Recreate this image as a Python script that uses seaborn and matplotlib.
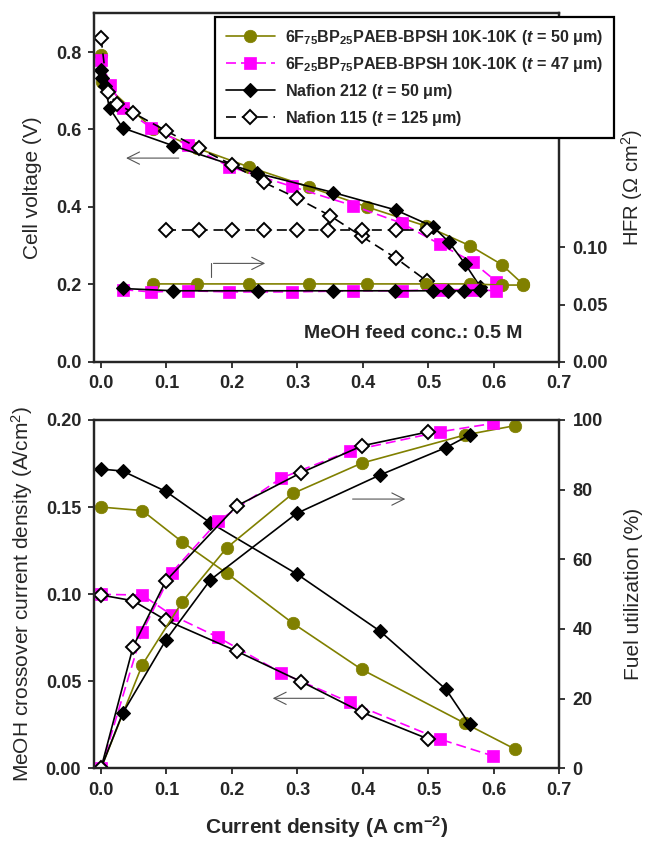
import numpy as np
import pandas as pd
import matplotlib
matplotlib.use("Agg")
import matplotlib.pyplot as plt
from matplotlib.lines import Line2D
import seaborn as sns

sns.set_style("ticks")
plt.rcParams['font.family'] = ['Liberation Sans', 'DejaVu Sans']
plt.rcParams['mathtext.fontset'] = 'custom'
plt.rcParams['mathtext.rm'] = 'Liberation Sans'
plt.rcParams['mathtext.bf'] = 'Liberation Sans:bold'
plt.rcParams['mathtext.it'] = 'Liberation Sans:italic'
plt.rcParams['mathtext.bfit'] = 'Liberation Sans:italic:bold'
plt.rcParams['mathtext.default'] = 'rm'

# ---------------- data: top panel (polarization + HFR) ----------------
labels = [r"6F$\mathbf{_{75}}$BP$\mathbf{_{25}}$PAEB-BPSH 10K-10K ($\mathbfit{t}$ = 50 μm)",
          r"6F$\mathbf{_{25}}$BP$\mathbf{_{75}}$PAEB-BPSH 10K-10K ($\mathbfit{t}$ = 47 μm)",
          r"Nafion 212 ($\mathbfit{t}$ = 50 μm)",
          r"Nafion 115 ($\mathbfit{t}$ = 125 μm)"]

pol_I_6F75 = [0.0, 0.002, 0.08, 0.146, 0.226, 0.317, 0.406, 0.497, 0.563, 0.612, 0.644]
pol_V_6F75 = [0.793, 0.722, 0.600, 0.552, 0.503, 0.452, 0.400, 0.350, 0.300, 0.251, 0.201]
hfr_I_6F75 = [0.08, 0.146, 0.226, 0.317, 0.406, 0.497, 0.563, 0.612, 0.644]
hfr_R_6F75 = [0.068, 0.068, 0.068, 0.068, 0.068, 0.068, 0.068, 0.067, 0.067]

pol_I_6F25 = [0.0, 0.014, 0.034, 0.077, 0.133, 0.196, 0.291, 0.385, 0.459, 0.517, 0.568, 0.604]
pol_V_6F25 = [0.780, 0.716, 0.655, 0.604, 0.559, 0.504, 0.453, 0.403, 0.358, 0.304, 0.257, 0.207]
hfr_I_6F25 = [0.034, 0.077, 0.133, 0.196, 0.291, 0.385, 0.459, 0.517, 0.568, 0.604]
hfr_R_6F25 = [0.063, 0.061, 0.062, 0.061, 0.061, 0.062, 0.062, 0.063, 0.063, 0.062]

pol_I_N212 = [0.0, 0.002, 0.006, 0.013, 0.033, 0.11, 0.238, 0.355, 0.45, 0.507, 0.531, 0.556, 0.579]
pol_V_N212 = [0.754, 0.733, 0.711, 0.655, 0.604, 0.558, 0.487, 0.437, 0.392, 0.349, 0.310, 0.253, 0.194]
hfr_I_N212 = [0.033, 0.11, 0.24, 0.354, 0.449, 0.507, 0.53, 0.555, 0.579]
hfr_R_N212 = [0.064, 0.062, 0.062, 0.062, 0.062, 0.062, 0.062, 0.062, 0.063]

pol_I_N115 = [0.0, 0.01, 0.024, 0.049, 0.1, 0.15, 0.2, 0.249, 0.30, 0.35, 0.398, 0.451, 0.498]
pol_V_N115 = [0.837, 0.696, 0.667, 0.643, 0.596, 0.551, 0.509, 0.463, 0.422, 0.377, 0.324, 0.267, 0.208]
hfr_I_N115 = [0.099, 0.15, 0.2, 0.249, 0.30, 0.347, 0.398, 0.451, 0.498]
hfr_R_N115 = [0.1147, 0.1147, 0.1147, 0.1147, 0.1147, 0.1147, 0.1147, 0.1147, 0.1147]

# ---------------- data: bottom panel (crossover + fuel utilization) ----------------
x_I_6F75 = [0.0, 0.063, 0.124, 0.192, 0.293, 0.398, 0.556, 0.633]
x_C_6F75 = [0.150, 0.148, 0.130, 0.112, 0.0833, 0.0568, 0.0258, 0.0109]
x_U_6F75 = [0, 29.7, 47.8, 63.3, 78.9, 87.6, 95.7, 98.4]

x_I_6F25 = [0.0, 0.063, 0.108, 0.179, 0.275, 0.38, 0.517, 0.598]
x_C_6F25 = [0.0999, 0.0995, 0.088, 0.0752, 0.0549, 0.0379, 0.0168, 0.0072]
x_U_6F25 = [0, 39.2, 56.2, 71.0, 83.3, 91.1, 96.6, 99.0]

x_I_N212 = [0.0, 0.033, 0.099, 0.167, 0.299, 0.426, 0.527, 0.563]
x_C_N212 = [0.1718, 0.1707, 0.159, 0.141, 0.1116, 0.0788, 0.0453, 0.0252]
x_U_N212 = [0, 15.8, 36.8, 54.1, 73.2, 84.2, 92.1, 95.7]

x_I_N115 = [0.0, 0.049, 0.099, 0.207, 0.306, 0.399, 0.5]
x_C_N115 = [0.0995, 0.0962, 0.0851, 0.0673, 0.0497, 0.0321, 0.0168]
x_U_N115 = [0, 34.9, 53.8, 75.3, 84.9, 92.6, 96.6]

# ---------------- styles ----------------
OLIVE = '#808000'
MAG = '#FF00FF'
LW = 1.2
styles = {
    '6F75': dict(color=OLIVE, marker='o', markersize=9, markerfacecolor=OLIVE,
                 markeredgecolor=OLIVE, markeredgewidth=0.5, linestyle='-', linewidth=LW),
    '6F25': dict(color=MAG, marker='s', markersize=8, markerfacecolor=MAG,
                 markeredgecolor=MAG, markeredgewidth=0.5, linestyle=(0, (6, 3)), linewidth=LW),
    'N212': dict(color='black', marker='D', markersize=7, markerfacecolor='black',
                 markeredgecolor='black', markeredgewidth=0.8, linestyle='-', linewidth=LW),
    'N115': dict(color='black', marker='D', markersize=7, markerfacecolor='white',
                 markeredgecolor='black', markeredgewidth=1.4, linestyle=(0, (6, 3.5)), linewidth=LW),
}

def draw(ax, x, y, key, **over):
    kw = dict(styles[key])
    kw.update(over)
    sns.lineplot(x=x, y=y, ax=ax, sort=False, estimator=None, legend=False, **kw)

fig = plt.figure(figsize=(6.47, 8.42), dpi=100)
ax1 = fig.add_axes([0.1458, 0.5704, 0.7187, 0.4138])
ax1r = ax1.twinx()
ax2 = fig.add_axes([0.1458, 0.0875, 0.7187, 0.4137])
ax2r = ax2.twinx()

# top panel
draw(ax1, pol_I_6F75, pol_V_6F75, '6F75')
draw(ax1r, hfr_I_6F75, hfr_R_6F75, '6F75')
draw(ax1, pol_I_6F25, pol_V_6F25, '6F25')
draw(ax1r, hfr_I_6F25, hfr_R_6F25, '6F25')
draw(ax1, pol_I_N212, pol_V_N212, 'N212')
draw(ax1r, hfr_I_N212, hfr_R_N212, 'N212')
draw(ax1, pol_I_N115, pol_V_N115, 'N115')
draw(ax1r, hfr_I_N115, hfr_R_N115, 'N115')

# bottom panel
draw(ax2, x_I_6F75, x_C_6F75, '6F75')
draw(ax2r, x_I_6F75, x_U_6F75, '6F75')
draw(ax2, x_I_6F25, x_C_6F25, '6F25')
draw(ax2r, x_I_6F25, x_U_6F25, '6F25')
draw(ax2, x_I_N212, x_C_N212, 'N212')
draw(ax2r, x_I_N212, x_U_N212, 'N212')
draw(ax2, x_I_N115, x_C_N115, 'N115', linestyle='-')
draw(ax2r, x_I_N115, x_U_N115, 'N115', linestyle='-')

TICK_FS = 13
LAB_FS = 15

def fmt_axes(ax, axr, ylim, yticks, yfmt, rlim, rticks, rfmt):
    ax.set_xlim(-0.0102, 0.7)
    ax.set_ylim(*ylim)
    axr.set_ylim(*rlim)
    ax.set_xticks(np.arange(0, 0.71, 0.1))
    ax.set_xticklabels([f"{v:.1f}" for v in np.arange(0, 0.71, 0.1)])
    ax.set_yticks(yticks)
    ax.set_yticklabels([yfmt.format(v) for v in yticks])
    axr.set_yticks(rticks)
    axr.set_yticklabels([rfmt.format(v) for v in rticks])
    for a in (ax, axr):
        a.tick_params(direction='out', length=4.5, width=1.3, labelsize=TICK_FS, pad=5)
        for s in a.spines.values():
            s.set_linewidth(1.6)
            s.set_visible(True)
        for lab in a.get_xticklabels() + a.get_yticklabels():
            lab.set_fontweight('bold')
    ax.set_xlabel('')
    axr.set_xlabel('')

fmt_axes(ax1, ax1r, (0, 0.9), [0.0, 0.2, 0.4, 0.6, 0.8], "{:.1f}",
         (0, 0.3045), [0.0, 0.05, 0.10], "{:.2f}")
fmt_axes(ax2, ax2r, (0, 0.2), [0.0, 0.05, 0.10, 0.15, 0.20], "{:.2f}",
         (0, 100), [0, 20, 40, 60, 80, 100], "{:.0f}")

ax1.set_ylabel("Cell voltage (V)", fontsize=LAB_FS)
ax1r.set_ylabel(r"HFR (Ω cm$^{2}$)", fontsize=14.5)
ax2.set_ylabel(r"MeOH crossover current density (A/cm$^{2}$)", fontsize=LAB_FS)
ax2r.set_ylabel("Fuel utilization (%)", fontsize=LAB_FS)
ax2.set_xlabel(r"Current density (A cm$\mathbf{^{-2}}$)", fontsize=LAB_FS, fontweight='bold', labelpad=11)
ax1.yaxis.set_label_coords(-0.113, 0.5)
ax2.yaxis.set_label_coords(-0.128, 0.5)
ax1r.yaxis.set_label_coords(1.128, 0.5)
ax2r.yaxis.set_label_coords(1.14, 0.5)

# annotations
ax1.text(0.643, 0.074, "MeOH feed conc.: 0.5 M", ha='right', va='center',
         fontsize=14, fontweight='bold')
arrow_kw = dict(arrowstyle='->', color='#555555', lw=0.8, mutation_scale=22)
ax1.annotate("", xy=(0.034, 0.526), xytext=(0.123, 0.526), arrowprops=arrow_kw)
ax1.plot([0.1675, 0.1675], [0.22, 0.254], color='#555555', lw=0.8)
ax1.annotate("", xy=(0.255, 0.254), xytext=(0.1675, 0.254), arrowprops=arrow_kw)
ax2.annotate("", xy=(0.258, 0.0402), xytext=(0.345, 0.0402), arrowprops=arrow_kw)
ax2r.annotate("", xy=(0.469, 77.3), xytext=(0.38, 77.3), arrowprops=arrow_kw)

# legend
handles = []
for key in ['6F75', '6F25', 'N212', 'N115']:
    st = dict(styles[key])
    handles.append(Line2D([0], [0], **st))
leg = ax1.legend(handles, labels, loc='upper left', bbox_to_anchor=(0.2596, 0.9885),
                 frameon=True, fancybox=False, edgecolor='black', framealpha=1,
                 prop={'weight': 'bold', 'size': 11.6}, handlelength=3.1,
                 handletextpad=0.6, labelspacing=0.5, borderpad=0.65,
                 borderaxespad=0)
leg.get_frame().set_linewidth(1.6)
leg.set_zorder(20)
leg.remove()
ax1r.add_artist(leg)

fig.savefig("out.png", dpi=100)
